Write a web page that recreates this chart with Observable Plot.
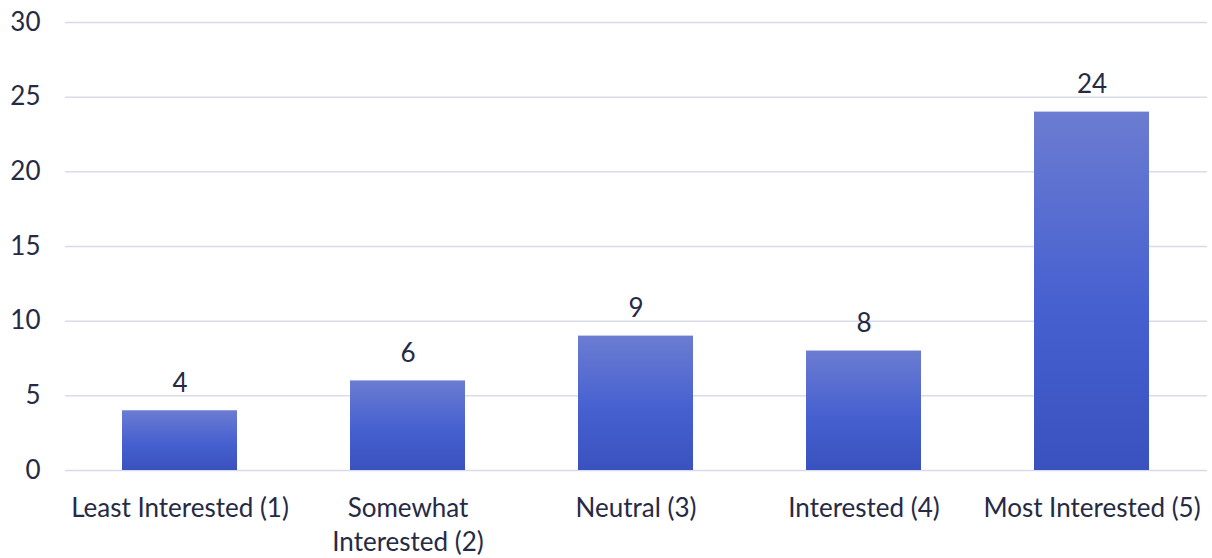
<!DOCTYPE html>
<html>
<head>
<meta charset="utf-8">
<script src="https://cdn.jsdelivr.net/npm/d3@7"></script>
<script src="https://cdn.jsdelivr.net/npm/@observablehq/plot@0.6"></script>
<style>
  html, body { margin: 0; padding: 0; background: #fff; }
  #chart svg { display: block; }
</style>
</head>
<body>
<div id="chart"></div>
<script>
const categories = ["Least Interested (1)", "Somewhat Interested (2)", "Neutral (3)", "Interested (4)", "Most Interested (5)"];
const tickLabels = ["Least Interested (1)", "Somewhat\nInterested (2)", "Neutral (3)", "Interested (4)", "Most Interested (5)"];
const values = [4, 6, 9, 8, 24];
const yTicks = [0, 5, 10, 15, 20, 25, 30];

const data = categories.map((c, i) => ({category: c, value: values[i]}));
const labelOf = new Map(categories.map((c, i) => [c, tickLabels[i]]));

const textColor = "#262a45";
const fs = 26;

const plot = Plot.plot({
  width: 1212,
  height: 558,
  marginLeft: 65,
  marginRight: 5,
  marginTop: 22,
  marginBottom: 88,
  style: {fontFamily: "Lato, sans-serif", fontSize: fs + "px", color: textColor, background: "#fff"},
  x: {domain: categories, paddingInner: 0.495, paddingOuter: 0.25, align: 0.5, label: null},
  y: {domain: [0, 30], label: null},
  marks: [
    () => {
      const svg = d3.create("svg:defs");
      const g = svg.append("linearGradient").attr("id", "barGrad")
        .attr("x1", 0).attr("y1", 0).attr("x2", 0).attr("y2", 1);
      g.append("stop").attr("offset", "0%").attr("stop-color", "#6b7cd1");
      g.append("stop").attr("offset", "55%").attr("stop-color", "#4660d0");
      g.append("stop").attr("offset", "100%").attr("stop-color", "#3a52bf");
      return svg.node();
    },
    Plot.gridY(yTicks, {stroke: "#d9dbec", strokeOpacity: 1, strokeWidth: 1.5}),
    Plot.barY(data, {x: "category", y: "value", fill: "url(#barGrad)"}),
    Plot.axisY({ticks: yTicks, tickSize: 0, tickPadding: 0, dx: -25, textAnchor: "end", fontSize: fs, fill: textColor, label: null}),
    Plot.axisX({tickSize: 0, tickPadding: 22, fontSize: fs, fill: textColor, label: null, tickFormat: d => labelOf.get(d), lineHeight: 1.31}),
    Plot.text(data, {x: "category", y: "value", text: d => String(d.value), dy: -27, fontSize: fs, fill: textColor})
  ]
});
document.getElementById("chart").appendChild(plot);
</script>
</body>
</html>
